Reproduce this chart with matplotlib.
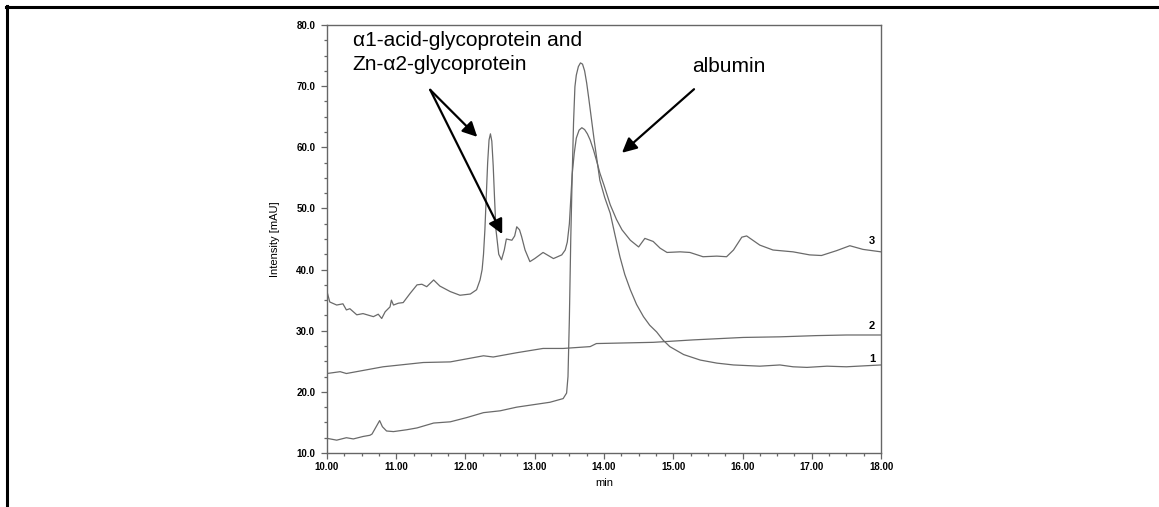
import matplotlib
matplotlib.use('Agg')
import matplotlib.pyplot as plt
from matplotlib.lines import Line2D
from matplotlib.ticker import MultipleLocator, FormatStrFormatter

plt.rcParams['font.family'] = ['Liberation Sans', 'DejaVu Sans']

# retention time [min] and intensity [mAU]
curve1_x = [10.00, 10.14, 10.28, 10.38, 10.52, 10.62, 10.65, 10.71, 10.76, 10.80,
            10.86, 10.96, 11.15, 11.30, 11.54, 11.78, 12.02, 12.26, 12.50, 12.74,
            12.98, 13.22, 13.41, 13.46, 13.48, 13.50, 13.52, 13.54, 13.56, 13.58,
            13.60, 13.63, 13.66, 13.69, 13.72, 13.75, 13.78, 13.82, 13.86, 13.90,
            13.94, 14.01, 14.09, 14.16, 14.23, 14.30, 14.38, 14.47, 14.57, 14.66,
            14.76, 14.85, 14.95, 15.15, 15.39, 15.63, 15.87, 16.25, 16.54, 16.73,
            16.93, 17.22, 17.50, 18.00]
curve1_y = [12.4, 12.1, 12.5, 12.3, 12.7, 12.9, 13.1, 14.3, 15.3, 14.3,
            13.6, 13.5, 13.8, 14.1, 14.9, 15.1, 15.8, 16.6, 16.9, 17.5,
            17.9, 18.3, 18.9, 19.8, 22.5, 32.0, 45.0, 55.0, 64.0, 69.9,
            71.8, 73.2, 73.8, 73.6, 72.5, 70.5, 68.0, 64.5, 61.0, 57.8,
            54.6, 51.8, 49.2, 45.6, 42.1, 39.2, 36.7, 34.3, 32.3, 30.9,
            29.8, 28.5, 27.4, 26.1, 25.2, 24.7, 24.4, 24.2, 24.4, 24.1,
            24.0, 24.2, 24.1, 24.4]

curve2_x = [10.00, 10.19, 10.28, 10.81, 11.39, 11.78, 12.26, 12.40, 12.74, 13.12,
            13.41, 13.80, 13.89, 14.71, 15.29, 16.01, 16.54, 17.07, 17.50, 18.00]
curve2_y = [23.0, 23.3, 23.0, 24.1, 24.8, 24.9, 25.9, 25.7, 26.4, 27.1,
            27.1, 27.4, 27.9, 28.1, 28.5, 28.9, 29.0, 29.2, 29.3, 29.3]

curve3_x = [10.00, 10.04, 10.14, 10.23, 10.28, 10.33, 10.43, 10.52, 10.67, 10.74,
            10.79, 10.84, 10.91, 10.93, 10.96, 11.03, 11.10, 11.20, 11.30, 11.37,
            11.44, 11.54, 11.63, 11.78, 11.92, 12.07, 12.16, 12.21, 12.24, 12.26,
            12.28, 12.30, 12.32, 12.34, 12.36, 12.38, 12.40, 12.42, 12.44, 12.48,
            12.52, 12.56, 12.59, 12.67, 12.71, 12.74, 12.78, 12.81, 12.86, 12.93,
            13.00, 13.12, 13.27, 13.39, 13.44, 13.47, 13.50, 13.52, 13.54, 13.57,
            13.60, 13.64, 13.68, 13.72, 13.76, 13.80, 13.85, 13.90, 13.94, 14.00,
            14.09, 14.18, 14.26, 14.38, 14.50, 14.59, 14.71, 14.81, 14.91, 15.10,
            15.24, 15.43, 15.63, 15.77, 15.87, 15.99, 16.06, 16.25, 16.44, 16.73,
            16.97, 17.14, 17.36, 17.55, 17.74, 18.00]
curve3_y = [36.4, 34.7, 34.2, 34.4, 33.4, 33.6, 32.6, 32.8, 32.3, 32.7,
            32.0, 33.1, 33.9, 35.0, 34.2, 34.5, 34.6, 36.1, 37.5, 37.6,
            37.2, 38.3, 37.3, 36.4, 35.8, 36.0, 36.7, 38.3, 40.0, 42.5,
            46.5, 52.0, 57.5, 61.2, 62.2, 61.0, 57.0, 51.5, 46.5, 42.5,
            41.6, 43.2, 45.0, 44.8, 45.5, 47.0, 46.5, 45.4, 43.2, 41.3,
            41.8, 42.8, 41.8, 42.4, 43.2, 44.5, 47.5, 51.5, 55.5, 59.0,
            61.5, 62.8, 63.2, 62.9, 62.2, 61.2, 59.5, 57.5, 55.8, 53.8,
            50.6, 48.2, 46.5, 44.8, 43.7, 45.1, 44.6, 43.5, 42.8, 42.9,
            42.8, 42.1, 42.2, 42.1, 43.2, 45.3, 45.5, 44.0, 43.2, 42.9,
            42.4, 42.3, 43.1, 43.9, 43.3, 42.9]

curve_labels = ['1', '2', '3']
curve_label_y = [25.3, 30.7, 44.7]

glyco_text = 'α1-acid-glycoprotein and\nZn-α2-glycoprotein'
glyco_tail = (11.49, 69.4)
glyco_tips = [(12.17, 61.7), (12.53, 45.8)]
albumin_text = 'albumin'
albumin_tail = (15.30, 69.5)
albumin_tip = (14.26, 59.1)

W, H = 1159, 507
fig = plt.figure(figsize=(W / 100, H / 100), dpi=100)
ax = fig.add_axes([327 / W, 54 / H, 554 / W, 428 / H])

line_color = '#6a6a6a'
for xs, ys in [(curve1_x, curve1_y), (curve2_x, curve2_y), (curve3_x, curve3_y)]:
    ax.plot(xs, ys, color=line_color, lw=0.9)

for lab, ly in zip(curve_labels, curve_label_y):
    ax.text(17.87, ly, lab, fontsize=8, fontweight='bold', ha='center', va='center')

ax.set_xlim(10, 18)
ax.set_ylim(10, 80)
ax.xaxis.set_major_locator(MultipleLocator(1))
ax.xaxis.set_minor_locator(MultipleLocator(0.25))
ax.yaxis.set_major_locator(MultipleLocator(10))
ax.yaxis.set_minor_locator(MultipleLocator(2.5))
ax.xaxis.set_major_formatter(FormatStrFormatter('%.2f'))
ax.yaxis.set_major_formatter(FormatStrFormatter('%.1f'))

for sp in ax.spines.values():
    sp.set_color('#666666')
    sp.set_linewidth(1.0)
ax.tick_params(which='major', length=4.5, width=0.9, color='#666666', labelsize=7)
ax.tick_params(which='minor', length=2.5, width=0.9, color='#666666')
ax.tick_params(axis='y', which='major', pad=4)
ax.tick_params(axis='x', which='major', pad=2)
for t in ax.get_xticklabels() + ax.get_yticklabels():
    t.set_fontweight('bold')

ax.set_xlabel('min', fontsize=8, labelpad=4)
ax.set_ylabel('Intensity [mAU]', fontsize=8, labelpad=12)

ax.text(10.37, 79.0, glyco_text, fontsize=15, va='top', ha='left', linespacing=1.3)
ax.text(15.27, 72.3, albumin_text, fontsize=15, va='baseline', ha='left')

arrow_kw = dict(arrowstyle='-|>', color='black', lw=1.6, mutation_scale=22, shrinkA=0, shrinkB=0)
for tip in glyco_tips:
    ax.annotate('', xy=tip, xytext=glyco_tail, arrowprops=arrow_kw)
ax.annotate('', xy=albumin_tip, xytext=albumin_tail, arrowprops=arrow_kw)

# frame lines along the top and left edges of the picture
fig.add_artist(Line2D([6 / W, 1.0], [1 - 7 / H, 1 - 7 / H], color='black', lw=2.2, transform=fig.transFigure))
fig.add_artist(Line2D([7 / W, 7 / W], [0.0, 1 - 6 / H], color='black', lw=2.2, transform=fig.transFigure))

fig.savefig('out.png', dpi=100)
